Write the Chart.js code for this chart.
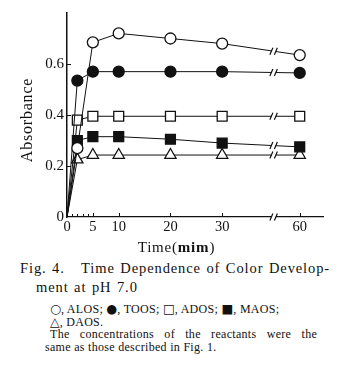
<!DOCTYPE html>
<html>
<head>
<meta charset="utf-8">
<script src="https://cdn.jsdelivr.net/npm/chart.js@4/dist/chart.umd.min.js"></script>
<style>
  body { margin: 0; background: #fff; }
  #wrap { position: relative; width: 344px; height: 376px; font-family: "Liberation Serif", "DejaVu Serif", serif; color: #111; }
  #wrap canvas { position: absolute; left: 0; top: 0; }
  .cap { position: absolute; white-space: nowrap; }
  .big { font-size: 14.5px; letter-spacing: 0.9px; word-spacing: 1px; }
  .small { font-size: 12px; letter-spacing: 0.3px; }
  .sym { font-family: "DejaVu Sans", sans-serif; font-size: 12.5px; letter-spacing: 0; }
</style>
</head>
<body>
<div id="wrap">
  <canvas id="myChart" width="344" height="258"></canvas>
  <div class="cap big" style="left:20px; top:260px;">Fig. 4.&nbsp;&nbsp; Time Dependence of Color Develop-</div>
  <div class="cap big" style="left:36px; top:279px;">ment at pH 7.0</div>
  <div class="cap small" style="left:50px; top:301px;"><span class="sym">○</span>, ALOS; <span class="sym">●</span>, TOOS; <span class="sym">□</span>, ADOS; <span class="sym">■</span>, MAOS;</div>
  <div class="cap small" style="left:50px; top:314px;"><span class="sym">△</span>, DAOS.</div>
  <div class="cap small" style="left:50px; top:327px; word-spacing:7px;">The concentrations of the reactants were the</div>
  <div class="cap small" style="left:45px; top:340px;">same as those described in Fig. 1.</div>
</div>
<script>
//////////////// DATA /////////////////////////////////
var timeMin = [0, 2, 5, 10, 20, 30, 60];
var alos = [0, 0.27, 0.685, 0.72, 0.70, 0.68, 0.635];
var toos = [0, 0.535, 0.57, 0.57, 0.57, 0.57, 0.565];
var ados = [0, 0.38, 0.395, 0.395, 0.395, 0.395, 0.395];
var maos = [0, 0.30, 0.315, 0.315, 0.305, 0.29, 0.275];
var daos = [0, 0.225, 0.243, 0.243, 0.243, 0.243, 0.243];
var xTickLabels = [0, 5, 10, 20, 30, 60];
var yTickLabels = [0, 0.2, 0.4, 0.6];

// x axis is broken between 40 and 60 min: after the break 4 min = 1 unit
var breakAt = 40;
function toAxis(t) { return t > breakAt ? breakAt + (t - breakAt) / 4 : t; }
function fromAxis(v) { return v > breakAt ? breakAt + (v - breakAt) * 4 : v; }

function makeSet(label, values, style, fill, r) {
  return {
    label: label,
    data: timeMin.map(function(t, i) { return { x: toAxis(t), y: values[i] }; }),
    borderColor: "#111",
    borderWidth: 1,
    pointStyle: style,
    pointBackgroundColor: fill,
    pointBorderColor: "#111",
    pointBorderWidth: 1.3,
    pointRadius: function(c) { return c.dataIndex === 0 ? 0 : r; },
    tension: 0
  };
}

var serif = "'Liberation Serif', 'DejaVu Serif', serif";

//////////////// EXTRA AXIS MARKS (inward ticks, breaks, titles) ////////////////
var marks = {
  id: "marks",
  afterDatasetsDraw: function(chart) {
    var ctx = chart.ctx, xs = chart.scales.x, ys = chart.scales.y;
    var y0 = ys.getPixelForValue(0), x0 = xs.getPixelForValue(0);
    ctx.save();
    ctx.strokeStyle = "#111";
    ctx.lineWidth = 1;
    ctx.beginPath();
    // y ticks, pointing in
    yTickLabels.slice(1).forEach(function(v) {
      var p = Math.round(ys.getPixelForValue(v)) + 0.5;
      ctx.moveTo(x0, p); ctx.lineTo(x0 + 4, p);
    });
    // x ticks, pointing up
    xTickLabels.slice(1).forEach(function(t) {
      var p = Math.round(xs.getPixelForValue(toAxis(t))) + 0.5;
      ctx.moveTo(p, y0); ctx.lineTo(p, y0 - 4);
    });
    for (var m = 1; m < 5; m++) {
      var q = Math.round(xs.getPixelForValue(m)) + 0.5;
      ctx.moveTo(q, y0); ctx.lineTo(q, y0 - 3);
    }
    ctx.stroke();

    // break marks on the axis and on every line
    var bx = xs.getPixelForValue(breakAt);
    function breakMark(py) {
      ctx.fillStyle = "#fff";
      ctx.fillRect(bx - 2, py - 2, 4, 4);
      ctx.beginPath();
      ctx.moveTo(bx - 4, py + 3.5); ctx.lineTo(bx - 1, py - 3.5);
      ctx.moveTo(bx + 0.5, py + 3.5); ctx.lineTo(bx + 3.5, py - 3.5);
      ctx.lineWidth = 1.2;
      ctx.stroke();
    }
    breakMark(y0);
    chart.data.datasets.forEach(function(ds) {
      var a = ds.data[5], b = ds.data[6];
      var f = (breakAt - a.x) / (b.x - a.x);
      breakMark(ys.getPixelForValue(a.y + (b.y - a.y) * f));
    });

    // axis titles
    ctx.fillStyle = "#111";
    ctx.textBaseline = "middle";
    ctx.letterSpacing = "0.8px";
    ctx.save();
    ctx.translate(28, (ys.top + y0) / 2 + 5);
    ctx.rotate(-Math.PI / 2);
    ctx.font = "16px " + serif;
    ctx.textAlign = "center";
    ctx.fillText("Absorbance", 0, 0);
    ctx.restore();

    var parts = [["Time(", "15px "], ["mim", "bold 15px "], [")", "15px "]];
    var total = 0;
    parts.forEach(function(p) { ctx.font = p[1] + serif; total += ctx.measureText(p[0]).width; });
    var tx = xs.getPixelForValue(20) + 6 - total / 2;
    ctx.textAlign = "left";
    parts.forEach(function(p) {
      ctx.font = p[1] + serif;
      ctx.fillText(p[0], tx, y0 + 31);
      tx += ctx.measureText(p[0]).width;
    });
    ctx.restore();
  }
};

//////////////// CHART /////////////////////////////////
var ctx = document.getElementById("myChart").getContext("2d");
var chart = new Chart(ctx, {
  type: "line",
  data: {
    datasets: [
      makeSet("ALOS", alos, "circle", "#fff", 5.5),
      makeSet("TOOS", toos, "circle", "#111", 5.5),
      makeSet("ADOS", ados, "rect", "#fff", 7),
      makeSet("MAOS", maos, "rect", "#111", 7),
      makeSet("DAOS", daos, "triangle", "#fff", 6.5)
    ]
  },
  options: {
    responsive: false,
    animation: false,
    layout: { padding: { top: 13, right: 21, left: 0, bottom: 0 } },
    plugins: { legend: { display: false }, tooltip: { enabled: false } },
    scales: {
      x: {
        type: "linear",
        min: 0,
        max: 49.5,
        afterBuildTicks: function(s) { s.ticks = xTickLabels.map(function(t) { return { value: toAxis(t) }; }); },
        afterFit: function(s) { s.height = 41; },
        ticks: {
          callback: function(v) { return String(fromAxis(v)); },
          color: "#111",
          font: { family: serif, size: 14.5 },
          padding: 1,
          maxRotation: 0,
          autoSkip: false
        },
        grid: { drawOnChartArea: false, drawTicks: false },
        border: { color: "#111", width: 1.3 }
      },
      y: {
        min: 0,
        max: 0.8,
        afterBuildTicks: function(s) { s.ticks = yTickLabels.map(function(v) { return { value: v }; }); },
        afterFit: function(s) { s.width = 67; },
        ticks: {
          callback: function(v) { return v === 0 ? "0" : v.toFixed(1); },
          color: "#111",
          font: { family: serif, size: 15 },
          padding: 3
        },
        grid: { drawOnChartArea: false, drawTicks: false },
        border: { color: "#111", width: 1.5 }
      }
    }
  },
  plugins: [marks]
});
</script>
</body>
</html>
